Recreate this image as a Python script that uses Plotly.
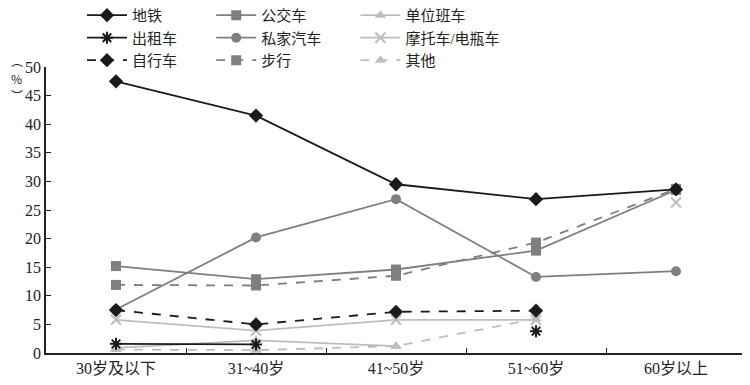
import plotly.graph_objects as go

categories = ["30岁及以下", "31~40岁", "41~50岁", "51~60岁", "60岁以上"]
subway = [47.5, 41.5, 29.5, 26.9, 28.6]
taxi = [1.6, 1.5, None, 3.8, None]
bicycle = [7.5, 5.0, 7.2, 7.4, None]
bus = [15.2, 12.9, 14.6, 17.9, 28.5]
car = [7.6, 20.2, 26.9, 13.3, 14.3]
walk = [11.9, 11.8, 13.5, 19.3, 28.7]
shuttle = [0.9, 2.2, 1.2, None, None]
moto = [5.8, 3.9, 5.8, 5.8, 26.3]
other = [0.6, 0.5, 1.2, 6.0, None]
ytitle_parts = ["︵", "%", "︶"]

BLACK = "#1a1a1a"
GREY = "#7f7f7f"
LIGHT = "#bdbdbd"
FONT = "Liberation Serif, Noto Sans CJK SC"

fig = go.Figure()

def add(name, y, color, symbol, dash="solid", legend="legend", msize=9, mline=0, show=True, mode="lines+markers"):
    fig.add_trace(go.Scatter(
        x=categories, y=y, name=name, mode=mode, legend=legend, showlegend=show,
        line=dict(color=color, width=1.8, dash=dash),
        marker=dict(symbol=symbol, size=msize, color=color,
                    line=dict(color=color, width=mline)),
        connectgaps=False, cliponaxis=False,
    ))

# column 3 (light) drawn first
add("单位班车", shuttle, LIGHT, "triangle-up", legend="legend3", msize=10)
add("摩托车/电瓶车", moto[:4] + [None], LIGHT, "x-thin-open", legend="legend3", msize=10, mline=2)
fig.add_trace(go.Scatter(x=categories[4:], y=moto[4:], mode="markers", showlegend=False,
                         marker=dict(symbol="x-thin-open", size=10, color=LIGHT,
                                     line=dict(color=LIGHT, width=2)), cliponaxis=False))
add("其他", other, LIGHT, "triangle-up", dash="dash", legend="legend3", msize=10)
# column 2 (grey)
add("公交车", bus, GREY, "square", legend="legend2", msize=10)
add("私家汽车", car, GREY, "circle", legend="legend2", msize=10)
add("步行", walk, GREY, "square", dash="dash", legend="legend2", msize=10)
# column 1 (black)
add("地铁", subway, BLACK, "diamond", legend="legend", msize=11)
add("出租车", taxi, BLACK, "asterisk-open", legend="legend", msize=10, mline=2)
add("自行车", bicycle, BLACK, "diamond", dash="dash", legend="legend", msize=11)

leg_common = dict(font=dict(family=FONT, size=15, color="#222"), bgcolor="rgba(0,0,0,0)",
                  xanchor="left", yanchor="top", yref="paper", xref="paper",
                  tracegroupgap=0, itemwidth=40)

LEG_Y = 1.238

fig.update_layout(
    width=750, height=385,
    margin=dict(l=38, r=12, t=59, b=40, autoexpand=False),
    plot_bgcolor="white", paper_bgcolor="white",
    font=dict(family=FONT, size=16, color="#222"),
    legend=dict(**leg_common, x=0.0514, y=LEG_Y, traceorder="normal"),
    legend2=dict(**leg_common, x=0.236, y=LEG_Y, traceorder="normal"),
    legend3=dict(**leg_common, x=0.442, y=LEG_Y, traceorder="normal"),
    xaxis=dict(range=[-0.5, 4.5], showline=True, linecolor="#222", linewidth=1.5, ticks="inside", ticklen=5,
               tickcolor="#222", tickson="boundaries", showgrid=False, zeroline=False,
               tickfont=dict(family=FONT, size=16), automargin=False),
    yaxis=dict(range=[0, 50], dtick=5, showline=True, linecolor="#222", linewidth=1.5,
               ticks="inside", ticklen=5, tickcolor="#222", showgrid=False, zeroline=False,
               tickfont=dict(family=FONT, size=16), automargin=False),
)

# vertical "(%)" title: three stacked pieces in figure pixels (container coords)
for i, part in enumerate(ytitle_parts):
    fig.add_annotation(text=part, xref="paper", yref="paper", x=-0.042,
                       y=1.0 + (6 - 17 * i) / 286.0,
                       xanchor="center", yanchor="middle", showarrow=False, borderpad=0,
                       font=dict(family="Noto Sans CJK SC", size=12, color="#222"))

fig.write_html("out.html")
